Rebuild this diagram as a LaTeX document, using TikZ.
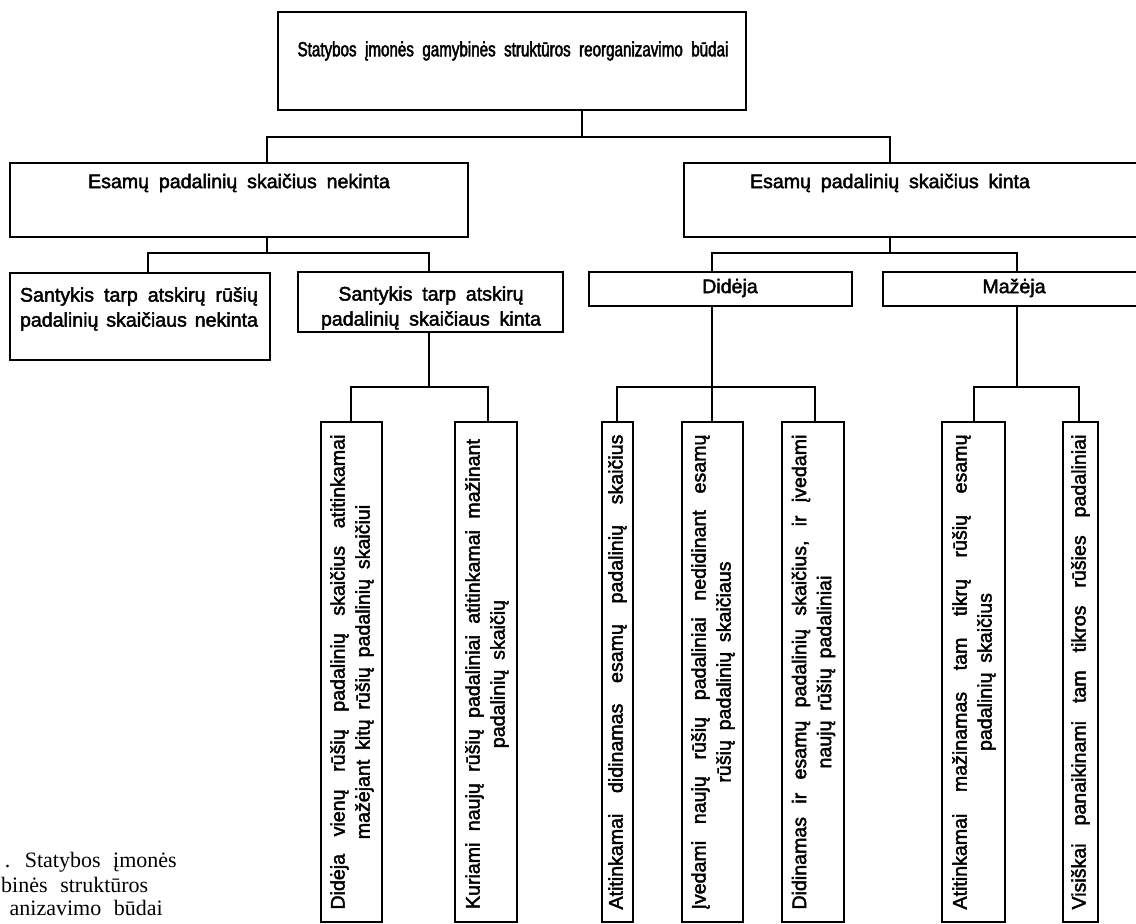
\documentclass[tikz,border=0pt]{standalone}
\usepackage{fontspec}
\setmainfont{Liberation Sans}[WordSpace=1.8, FakeBold=2.2]
\newfontfamily\condfont{Liberation Sans}[FakeStretch=0.74, WordSpace=2.0, FakeBold=2.2]
\newfontfamily\capfont{Liberation Serif}[WordSpace=2.3]
\begin{document}
\begin{tikzpicture}[x=1pt,y=-1pt,
  boxnode/.style={draw, line width=2.8pt, inner sep=0pt, outer sep=0pt},
  conn/.style={line width=1.3pt},
  txt/.style={inner sep=0pt, font=\fontsize{19.6}{25}\selectfont, align=center},
  toptxt/.style={inner sep=0pt, font=\condfont\fontsize{20.5}{22}\selectfont, align=center},
  vtxt/.style={txt, rotate=90},
  captxt/.style={inner sep=0pt, anchor=east, font=\capfont\fontsize{22}{23}\selectfont}]
\useasboundingbox (0,0) rectangle (1136,924);
\clip (0,0) rectangle (1136,924);
% boxes
\node[boxnode, minimum width=468pt, minimum height=98pt] (T) at (512,61) {};
\node[boxnode, minimum width=458pt, minimum height=74pt] (L) at (239,200) {};
\node[boxnode, minimum width=461pt, minimum height=74pt] (R) at (914.5,200) {};
\node[boxnode, minimum width=260pt, minimum height=87pt] (LL) at (140,316.5) {};
\node[boxnode, minimum width=265pt, minimum height=60pt] (LR) at (430.5,302) {};
\node[boxnode, minimum width=263pt, minimum height=34pt] (RL) at (720.5,289) {};
\node[boxnode, minimum width=262pt, minimum height=34pt] (RR) at (1014,289) {};
\node[boxnode, minimum width=61pt, minimum height=500pt] (V1) at (351.5,672) {};
\node[boxnode, minimum width=62pt, minimum height=500pt] (V2) at (486,672) {};
\node[boxnode, minimum width=31pt, minimum height=500pt] (V3) at (617.5,672) {};
\node[boxnode, minimum width=61pt, minimum height=500pt] (V4) at (712.5,672) {};
\node[boxnode, minimum width=62pt, minimum height=500pt] (V5) at (813,672) {};
\node[boxnode, minimum width=63pt, minimum height=500pt] (V6) at (973.5,672) {};
\node[boxnode, minimum width=35pt, minimum height=500pt] (V7) at (1080.5,672) {};
% connector positions
\coordinate (cT) at (582,0);
\coordinate (cL) at (267,0);
\coordinate (cR) at (890,0);
\coordinate (cLL) at (148,0);
\coordinate (cLR) at (429,0);
\coordinate (cV1) at (351,0);
\coordinate (cV2) at (488,0);
\coordinate (cRL) at (712,0);
\coordinate (cRR) at (1017,0);
\coordinate (cV3) at (617,0);
\coordinate (cV5) at (815,0);
\coordinate (cV6) at (974,0);
\coordinate (cV7) at (1079,0);
\coordinate (b1) at (0,137);
\coordinate (b2) at (0,253);
\coordinate (b3) at (0,387);
% connectors
\draw[conn] (T.south -| cT) -- (cT |- b1);
\draw[conn] (L.north -| cL) -- (cL |- b1) -- (cR |- b1) -- (R.north -| cR);
\draw[conn] (L.south -| cL) -- (cL |- b2);
\draw[conn] (LL.north -| cLL) -- (cLL |- b2) -- (cLR |- b2) -- (LR.north -| cLR);
\draw[conn] (R.south -| cR) -- (cR |- b2);
\draw[conn] (RL.north -| cRL) -- (cRL |- b2) -- (cRR |- b2) -- (RR.north -| cRR);
\draw[conn] (LR.south -| cLR) -- (cLR |- b3);
\draw[conn] (V1.north -| cV1) -- (cV1 |- b3) -- (cV2 |- b3) -- (V2.north -| cV2);
\draw[conn] (RL.south -| cRL) -- (V4.north -| cRL);
\draw[conn] (V3.north -| cV3) -- (cV3 |- b3) -- (cV5 |- b3) -- (V5.north -| cV5);
\draw[conn] (RR.south -| cRR) -- (cRR |- b3);
\draw[conn] (V6.north -| cV6) -- (cV6 |- b3) -- (cV7 |- b3) -- (V7.north -| cV7);
% texts
\node[toptxt] (tT) at (513,51) {Statybos įmonės gamybinės struktūros reorganizavimo būdai};
\node[txt] (tL) at (239,183) {Esamų padalinių skaičius nekinta};
\node[txt] (tR) at (890,183) {Esamų padalinių skaičius kinta};
\node[txt] (tLL) at (139,309) {\makebox[238pt][s]{Santykis tarp atskirų rūšių}\\\makebox[238pt][s]{padalinių skaičiaus nekinta}};
\node[txt] (tLR) at (431,308) {Santykis tarp atskirų\\padalinių skaičiaus kinta};
\node[txt] (tRL) at (730,288) {Didėja};
\node[txt] (tRR) at (1014,288) {Mažėja};
\node[vtxt] (tV1) at (352,672) {\makebox[475pt][s]{Didėja vienų rūšių padalinių skaičius atitinkamai}\\mažėjant kitų rūšių padalinių skaičiui};
\node[vtxt] (tV2) at (487,674) {\makebox[470pt][s]{Kuriami naujų rūšių padaliniai atitinkamai mažinant}\\padalinių skaičių};
\node[vtxt] (tV3) at (617.5,672) {\makebox[475pt][s]{Atitinkamai didinamas esamų padalinių skaičius}};
\node[vtxt] (tV4) at (713,672) {\makebox[475pt][s]{Įvedami naujų rūšių padaliniai nedidinant esamų}\\rūšių padalinių skaičiaus};
\node[vtxt] (tV5) at (813.5,672) {\makebox[475pt][s]{Didinamas ir esamų padalinių skaičius, ir įvedami}\\naujų rūšių padaliniai};
\node[vtxt] (tV6) at (974,672) {\makebox[475pt][s]{Atitinkamai mažinamas tam tikrų rūšių esamų}\\padalinių skaičius};
\node[vtxt] (tV7) at (1080.5,672) {\makebox[475pt][s]{Visiškai panaikinami tam tikros rūšies padaliniai}};
% caption (cut at the left edge)
\node[captxt] (c1) at (177,862) {. Statybos įmonės};
\node[captxt, anchor=west] (c2) at (1,885) {binės struktūros};
\node[captxt] (c3) at (163,908) {anizavimo būdai};
\end{tikzpicture}
\end{document}
